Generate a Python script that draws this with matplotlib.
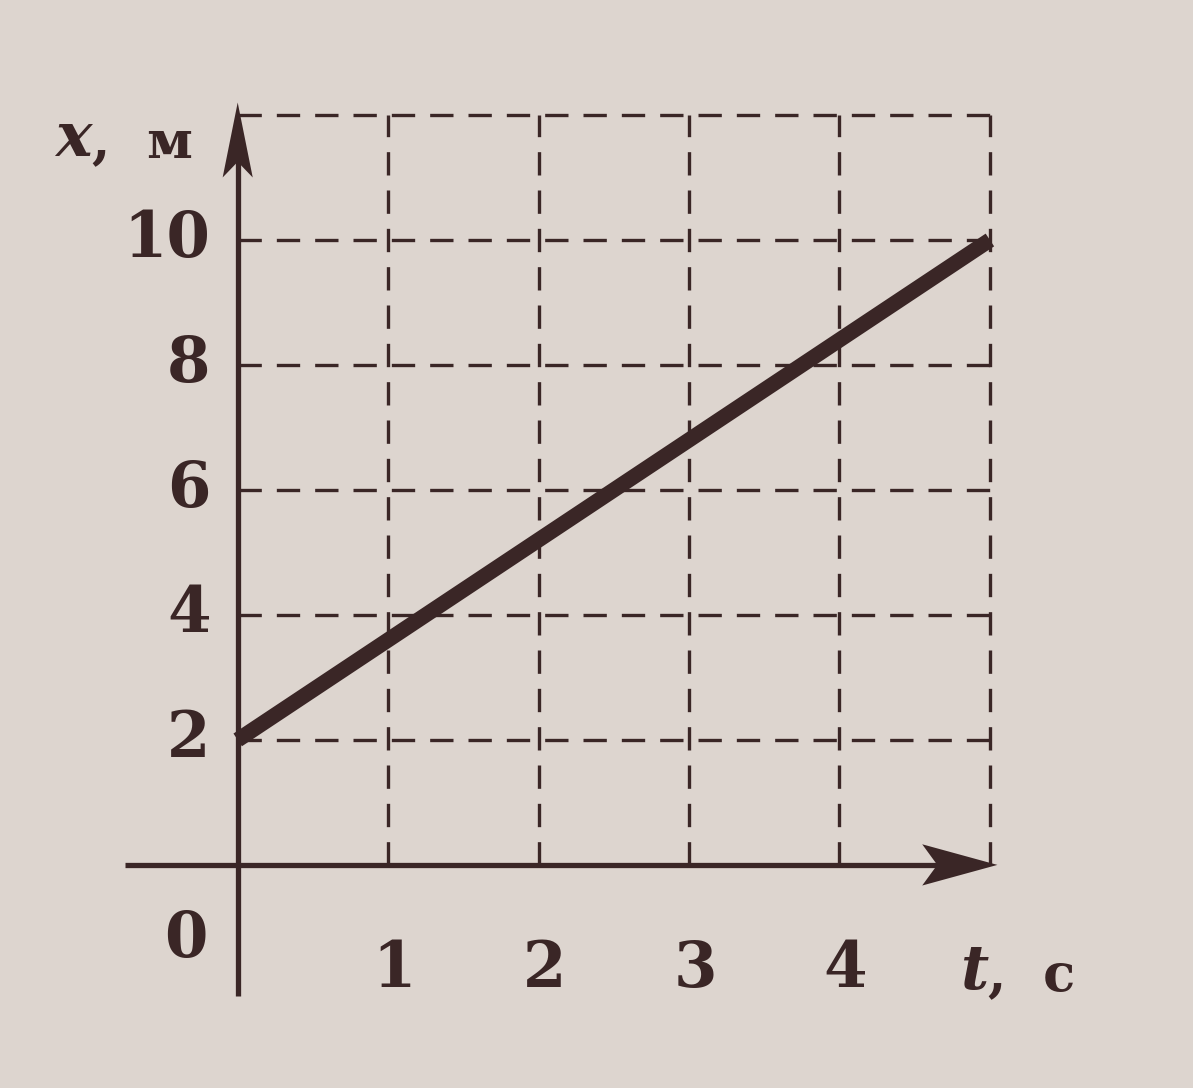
import matplotlib
matplotlib.use("Agg")
import matplotlib.pyplot as plt

# data
t_vals = [0, 5]
x_vals = [2, 10]
t_ticks = [1, 2, 3, 4]
x_ticks = [2, 4, 6, 8, 10]
grid_t = [1, 2, 3, 4, 5]
grid_x = [2, 4, 6, 8, 10, 12]

bg = "#ddd5cf"
ink = "#3a2626"

fig = plt.figure(figsize=(11.93, 10.88), dpi=100, facecolor=bg)
ax = fig.add_axes([0, 0, 1, 1], facecolor=bg)
ax.set_xlim(-1.58, 6.35)
ax.set_ylim(-3.57, 13.84)
ax.axis("off")

serif = ["DejaVu Serif"]

# dashed grid
for g in grid_x:
    ax.plot([0, 5], [g, g], color=ink, lw=2.4, ls=(0, (7, 4.5)), zorder=1)
for g in grid_t:
    ax.plot([g, g], [0, 12], color=ink, lw=2.4, ls=(0, (7, 4.5)), zorder=1)

# axes
ax.plot([-0.75, 4.7], [0, 0], color=ink, lw=3.8, zorder=2, solid_capstyle="butt")
ax.fill([5.05, 4.55, 4.65, 4.55], [0, 0.33, 0, -0.33], color=ink, lw=0, zorder=3)
ax.plot([0, 0], [-2.1, 11.3], color=ink, lw=3.8, zorder=2, solid_capstyle="butt")
ax.fill([0, -0.1, 0, 0.1], [12.2, 11.0, 11.25, 11.0], color=ink, lw=0, zorder=3)

# main line
ax.plot(t_vals, x_vals, color=ink, lw=11, solid_capstyle="butt", zorder=4)

# tick labels
for v in x_ticks:
    ax.text(-0.18, v, str(v), ha="right", va="center", fontsize=45,
            fontweight="bold", family=serif, color=ink)
for v in t_ticks:
    ax.text(v + 0.04, -1.68, str(v), ha="center", va="center", fontsize=45,
            fontweight="bold", family=serif, color=ink)
ax.text(-0.2, -1.2, "0", ha="right", va="center", fontsize=45,
        fontweight="bold", family=serif, color=ink)

# axis labels
ax.text(-0.97, 11.62, "x", ha="right", va="center", fontsize=44,
        style="italic", fontweight="bold", family=serif, color=ink)
ax.text(-0.97, 11.55, ",  м", ha="left", va="center", fontsize=38,
        fontweight="bold", family=serif, color=ink)
ax.text(4.99, -1.72, "t", ha="right", va="center", fontsize=44,
        style="italic", fontweight="bold", family=serif, color=ink)
ax.text(4.99, -1.78, ",  с", ha="left", va="center", fontsize=38,
        fontweight="bold", family=serif, color=ink)

fig.savefig("out.png", dpi=100, facecolor=bg)
